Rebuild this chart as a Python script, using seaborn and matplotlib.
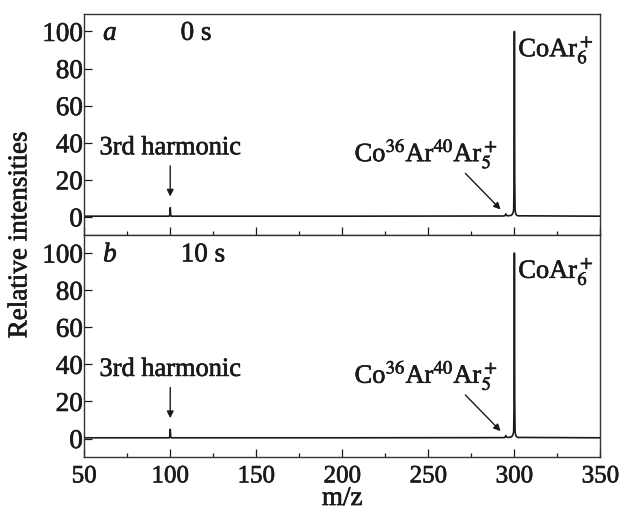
import matplotlib
matplotlib.use("Agg")
import matplotlib.pyplot as plt
import matplotlib.patheffects as pe
import seaborn as sns
import pandas as pd
from matplotlib.ticker import MultipleLocator

sns.set_theme(style="ticks")
plt.rcParams['font.family'] = ['Liberation Serif', 'DejaVu Serif']
plt.rcParams['mathtext.fontset'] = 'stix'

# spectrum data (m/z, relative intensity)
mz = [50, 99.4, 99.7, 100.0, 100.3, 100.6, 200, 294.0, 294.6, 295.0, 295.4, 296.0,
      298.0, 298.8, 299.3, 299.6, 299.8, 300.0, 300.2, 300.4, 300.7, 301.2, 302.0, 350]
intensity_0s = [0.4, 0.4, 0.8, 5.0, 0.8, 0.4, 0.4, 0.5, 0.8, 1.6, 0.8, 0.6,
                0.8, 1.4, 2.5, 4.0, 20.0, 100.0, 20.0, 4.0, 2.0, 1.0, 0.6, 0.4]
intensity_10s = [0.4, 0.4, 0.8, 5.0, 0.8, 0.4, 0.4, 0.5, 0.8, 1.6, 0.8, 0.6,
                 0.8, 1.4, 2.5, 4.0, 20.0, 100.0, 20.0, 4.0, 2.0, 1.0, 0.6, 0.4]

panels = ["a", "b"]
times = ["0 s", "10 s"]
time_x = [115, 119]
xticks = [50, 100, 150, 200, 250, 300, 350]
yticks = [0, 20, 40, 60, 80, 100]

fig, axes = plt.subplots(2, 1, figsize=(6.19, 5.13), dpi=100, sharex=True)
fig.subplots_adjust(left=0.136, right=0.970, top=0.973, bottom=0.109, hspace=0)

heavy = [pe.withStroke(linewidth=0.45, foreground="#1a1a1a")]
fs_tick = 19.5
fs_xtick = 18
fs_txt = 19
for ax, panel, t, tx, inten in zip(axes, panels, times, time_x, [intensity_0s, intensity_10s]):
    df = pd.DataFrame({"mz": mz, "I": inten})
    sns.lineplot(data=df, x="mz", y="I", ax=ax, color="#1a1a1a", lw=1.2, estimator=None)
    ax.set_xlim(50, 350)
    ax.set_ylim(-10, 109.5)
    ax.set_yticks(yticks)
    ax.set_xticks(xticks)
    ax.xaxis.set_minor_locator(MultipleLocator(25))
    ax.tick_params(axis="both", which="both", direction="in",
                   colors="#1a1a1a", width=0.9)
    ax.tick_params(axis="y", labelsize=fs_tick)
    ax.tick_params(axis="x", labelsize=fs_xtick)
    ax.tick_params(axis="both", which="major", length=6)
    ax.tick_params(axis="both", which="minor", length=3)
    ax.tick_params(axis="y", which="major", pad=1)
    ax.tick_params(axis="x", which="major", pad=6)
    for lab in ax.get_xticklabels() + ax.get_yticklabels():
        lab.set_path_effects(heavy)
    ax.set_xlabel("")
    ax.set_ylabel("")
    for s in ax.spines.values():
        s.set_linewidth(1.0)
        s.set_color("#333333")
    ax.text(61, 99, panel, fontsize=fs_tick, style="italic", va="center", ha="left",
            color="#1a1a1a", path_effects=heavy)
    ax.text(tx, 99, t, fontsize=fs_tick, va="center", ha="center",
            color="#1a1a1a", path_effects=heavy)
    ax.text(302.3, 90, r"CoAr$_6^+$", fontsize=fs_txt, va="center", ha="left",
            color="#1a1a1a", path_effects=heavy)
    ax.text(290.5, 34, r"Co$^{36}$Ar$^{40}$Ar$_5^+$", fontsize=fs_txt, va="center",
            ha="right", color="#1a1a1a", path_effects=heavy)
    ax.annotate("", xy=(292.0, 4.0), xytext=(271.5, 23.5),
                arrowprops=dict(arrowstyle="-|>", color="#1a1a1a", lw=1.0,
                                mutation_scale=10, shrinkA=0, shrinkB=0))
    ax.text(100, 37, "3rd harmonic", fontsize=fs_txt, va="center", ha="center",
            color="#1a1a1a", path_effects=heavy)
    ax.annotate("", xy=(100, 11), xytext=(100, 27.5),
                arrowprops=dict(arrowstyle="-|>", color="#1a1a1a", lw=1.0,
                                mutation_scale=10, shrinkA=0, shrinkB=0))

axes[0].tick_params(axis="x", which="both", labelbottom=False)
xl = axes[1].set_xlabel("m/z", fontsize=fs_tick, labelpad=-1, color="#1a1a1a")
xl.set_path_effects(heavy)
fig.text(0.032, 0.542, "Relative intensities", rotation=90, fontsize=fs_tick,
         va="center", ha="center", color="#1a1a1a", path_effects=heavy)

fig.savefig("out.png", dpi=100)
